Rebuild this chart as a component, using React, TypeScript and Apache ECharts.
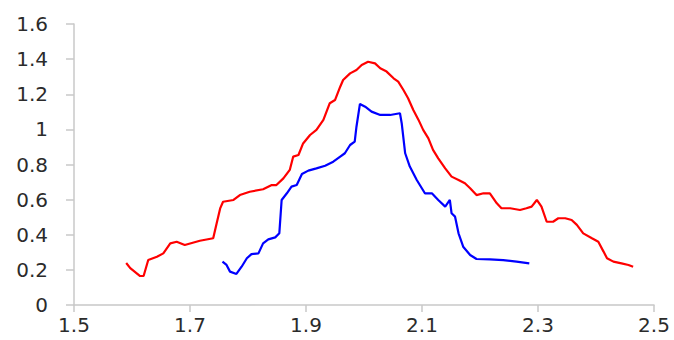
import React, { useEffect, useRef } from "react";
import * as echarts from "echarts";

const xTicks = { min: 1.5, max: 2.5, interval: 0.2 };
const yTicks = { min: 0, max: 1.6, interval: 0.2 };

const redX = [1.590, 1.597, 1.614, 1.620, 1.628, 1.643, 1.654, 1.666, 1.677, 1.691, 1.717, 1.740, 1.746, 1.752, 1.757, 1.775, 1.786, 1.803, 1.826, 1.841, 1.849, 1.861, 1.872, 1.878, 1.887, 1.895, 1.907, 1.918, 1.930, 1.941, 1.950, 1.959, 1.964, 1.976, 1.987, 1.996, 2.007, 2.019, 2.028, 2.039, 2.051, 2.059, 2.068, 2.076, 2.085, 2.094, 2.102, 2.111, 2.119, 2.128, 2.140, 2.151, 2.163, 2.174, 2.183, 2.194, 2.206, 2.217, 2.229, 2.237, 2.252, 2.269, 2.280, 2.289, 2.298, 2.306, 2.315, 2.326, 2.335, 2.347, 2.358, 2.367, 2.378, 2.393, 2.404, 2.413, 2.419, 2.430, 2.444, 2.456, 2.464];
const redY = [0.239, 0.210, 0.165, 0.165, 0.256, 0.275, 0.294, 0.351, 0.360, 0.342, 0.366, 0.380, 0.465, 0.550, 0.588, 0.598, 0.626, 0.645, 0.659, 0.683, 0.683, 0.721, 0.769, 0.845, 0.854, 0.920, 0.968, 0.997, 1.054, 1.149, 1.167, 1.243, 1.281, 1.319, 1.338, 1.367, 1.385, 1.376, 1.348, 1.329, 1.291, 1.272, 1.224, 1.177, 1.110, 1.054, 0.997, 0.949, 0.883, 0.835, 0.778, 0.731, 0.712, 0.693, 0.665, 0.626, 0.636, 0.636, 0.579, 0.551, 0.551, 0.541, 0.551, 0.560, 0.598, 0.560, 0.474, 0.474, 0.494, 0.494, 0.484, 0.456, 0.408, 0.380, 0.360, 0.304, 0.266, 0.247, 0.237, 0.228, 0.218];

const blueX = [1.756, 1.763, 1.769, 1.780, 1.789, 1.798, 1.806, 1.818, 1.826, 1.835, 1.847, 1.854, 1.858, 1.867, 1.875, 1.884, 1.893, 1.904, 1.918, 1.933, 1.947, 1.959, 1.967, 1.976, 1.984, 1.987, 1.993, 2.002, 2.013, 2.028, 2.045, 2.062, 2.065, 2.071, 2.079, 2.091, 2.105, 2.117, 2.128, 2.140, 2.148, 2.151, 2.157, 2.163, 2.171, 2.183, 2.194, 2.217, 2.240, 2.263, 2.285];
const blueY = [0.247, 0.228, 0.190, 0.177, 0.218, 0.266, 0.290, 0.294, 0.351, 0.374, 0.385, 0.408, 0.598, 0.636, 0.674, 0.683, 0.746, 0.765, 0.778, 0.793, 0.816, 0.845, 0.864, 0.911, 0.930, 1.015, 1.145, 1.129, 1.101, 1.082, 1.082, 1.092, 1.035, 0.864, 0.788, 0.712, 0.636, 0.636, 0.598, 0.560, 0.598, 0.522, 0.503, 0.408, 0.332, 0.285, 0.262, 0.260, 0.256, 0.247, 0.237];

const zip = (xs: number[], ys: number[]) => xs.map((x, i) => [x, ys[i]]);

export default function App() {
  const ref = useRef<HTMLDivElement>(null);
  useEffect(() => {
    document.body.style.margin = "0";
    const chart = echarts.init(ref.current!, null, { renderer: "svg" });
    const axisColor = "#c8c8c8";
    const labelStyle = {
      color: "#2b2b2b",
      fontSize: 20,
      fontFamily: "DejaVu Sans",
    };
    chart.setOption({
      animation: false,
      backgroundColor: "#ffffff",
      grid: { left: 74, right: 20, top: 24, bottom: 35, containLabel: false },
      xAxis: {
        type: "value",
        min: xTicks.min,
        max: xTicks.max,
        interval: xTicks.interval,
        axisLine: { show: true, lineStyle: { color: axisColor, width: 1.5 } },
        axisTick: { show: true, length: 7, lineStyle: { color: axisColor, width: 1.5 } },
        splitLine: { show: false },
        axisLabel: { ...labelStyle, margin: 10 },
      },
      yAxis: {
        type: "value",
        min: yTicks.min,
        max: yTicks.max,
        interval: yTicks.interval,
        axisLine: { show: true, lineStyle: { color: axisColor, width: 1.5 } },
        axisTick: { show: true, length: 8, lineStyle: { color: axisColor, width: 1.5 } },
        splitLine: { show: false },
        axisLabel: { ...labelStyle, margin: 26 },
      },
      series: [
        {
          type: "line",
          data: zip(redX, redY),
          showSymbol: false,
          symbol: "none",
          lineStyle: { color: "#ff0000", width: 2.2 },
          itemStyle: { color: "#ff0000" },
        },
        {
          type: "line",
          data: zip(blueX, blueY),
          showSymbol: false,
          symbol: "none",
          lineStyle: { color: "#0000ff", width: 2.2 },
          itemStyle: { color: "#0000ff" },
        },
      ],
    });
    return () => chart.dispose();
  }, []);
  return <div ref={ref} style={{ width: 674, height: 340 }} />;
}
